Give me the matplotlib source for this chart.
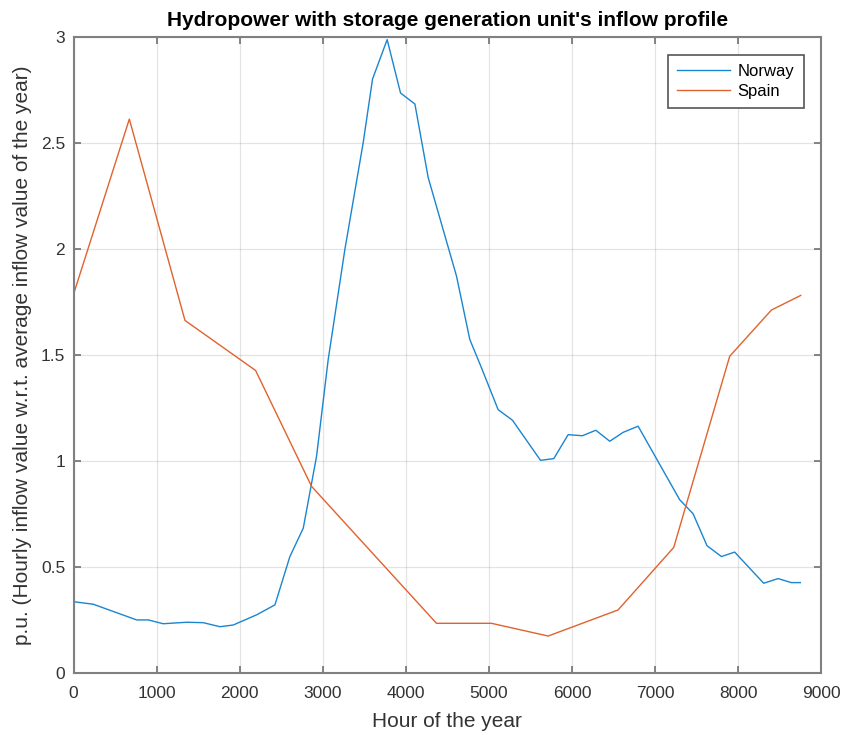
import numpy as np
import matplotlib.pyplot as plt

plt.rcParams['font.family'] = ['Liberation Sans', 'DejaVu Sans']

# Norway inflow profile (hour, p.u.)
norway_hour = [0, 238, 760, 900, 1080, 1362, 1562, 1763, 1923, 2204, 2425, 2605,
               2766, 2926, 3066, 3267, 3488, 3600, 3776, 3937, 4110, 4270, 4611,
               4771, 4912, 5112, 5285, 5622, 5782, 5955, 6127, 6288, 6456, 6617,
               6797, 7298, 7459, 7627, 7800, 7960, 8309, 8482, 8643, 8751]
norway_pu = [0.338, 0.326, 0.252, 0.252, 0.234, 0.241, 0.239, 0.220, 0.228, 0.276,
             0.323, 0.551, 0.685, 1.024, 1.48, 2.0, 2.505, 2.804, 2.99, 2.738,
             2.686, 2.339, 1.874, 1.575, 1.441, 1.244, 1.194, 1.005, 1.013, 1.126,
             1.121, 1.147, 1.095, 1.137, 1.166, 0.819, 0.753, 0.602, 0.551, 0.572,
             0.425, 0.447, 0.428, 0.428]

# Spain inflow profile
spain_hour = [0, 672, 1342, 2192, 2866, 4370, 5032, 5714, 6556, 7226, 7900, 8402, 8755]
spain_pu = [1.788, 2.615, 1.665, 1.429, 0.882, 0.236, 0.236, 0.176, 0.299, 0.594,
            1.496, 1.714, 1.783]

fig = plt.figure(figsize=(8.43, 7.35), dpi=100)
ax = fig.add_axes([0.0872, 0.0839, 0.8868, 0.8651])

ax.plot(norway_hour, norway_pu, color='#1a85d0', lw=1.0, label='Norway')
ax.plot(spain_hour, spain_pu, color='#e0622e', lw=1.0, label='Spain')

ax.set_xlim(0, 9000)
ax.set_ylim(0, 3)
ax.set_xticks(np.arange(0, 9001, 1000))
ax.set_yticks([0, 0.5, 1, 1.5, 2, 2.5, 3])
ax.set_yticklabels(['0', '0.5', '1', '1.5', '2', '2.5', '3'])
ax.grid(True, color='#262626', alpha=0.12, lw=0.9)
ax.tick_params(direction='in', top=True, right=True, labelsize=12.5,
               labelcolor='#333333', color='#707070', length=5, width=1.2)
ax.tick_params(axis='x', pad=9)
ax.tick_params(axis='y', pad=6)
for s in ax.spines.values():
    s.set_color('#808080')
    s.set_linewidth(1.5)

ax.set_xlabel('Hour of the year', fontsize=15, color='#333333', labelpad=8)
ax.set_ylabel('p.u. (Hourly inflow value w.r.t. average inflow value of the year)',
              fontsize=15, color='#333333', labelpad=6)
ax.set_title("Hydropower with storage generation unit's inflow profile",
             fontsize=15, fontweight='bold', pad=8)

leg = ax.legend(loc='upper right', fontsize=12, fancybox=False,
                edgecolor='#555555', framealpha=1, borderaxespad=1.05,
                handlelength=3.2, handletextpad=0.45, labelspacing=0.3,
                borderpad=0.55)
leg.get_frame().set_linewidth(1.2)

fig.savefig('out.png', dpi=100)
